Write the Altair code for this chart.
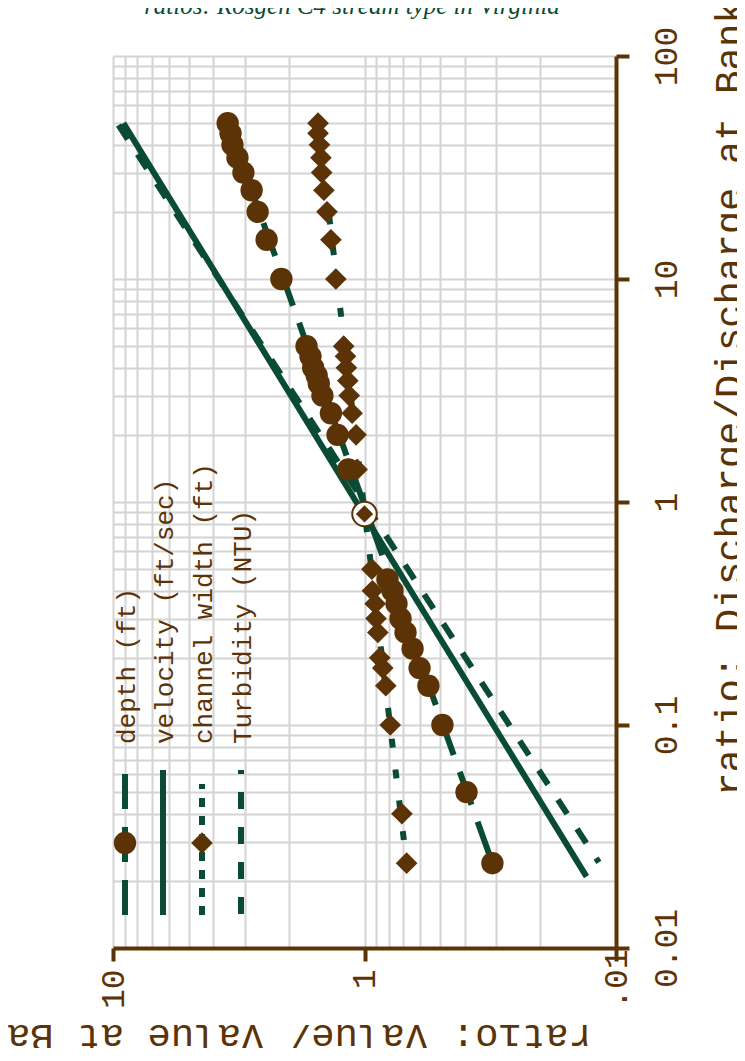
import altair as alt
import pandas as pd

# ---- data ----
# depth (ft): discharge ratio Q vs value ratio V
depth_Q = [50, 45, 40, 35, 30, 25, 20, 15, 10,
           5, 4.5, 4, 3.7, 3.4, 3, 2.5, 2, 1.4,
           0.45, 0.4, 0.35, 0.3, 0.26, 0.22, 0.18, 0.15, 0.1, 0.05, 0.024]
depth_V = [3.50, 3.41, 3.35, 3.20, 3.03, 2.81, 2.66, 2.45, 2.14,
           1.70, 1.64, 1.60, 1.55, 1.52, 1.47, 1.36, 1.28, 1.16,
           0.81, 0.774, 0.746, 0.719, 0.687, 0.644, 0.604, 0.557, 0.49, 0.393, 0.31]
# channel width (ft)
width_Q = [50, 45, 40, 35, 30, 25, 20, 15, 10,
           5, 4.5, 4, 3.5, 3, 2.5, 2, 1.4,
           0.5, 0.4, 0.35, 0.3, 0.26, 0.2, 0.18, 0.15, 0.1, 0.04, 0.024]
width_V = [1.53, 1.53, 1.51, 1.49, 1.48, 1.45, 1.41, 1.36, 1.30,
           1.21, 1.19, 1.18, 1.165, 1.15, 1.12, 1.08, 1.07,
           0.935, 0.93, 0.907, 0.90, 0.885, 0.87, 0.846, 0.823, 0.79, 0.71, 0.68]
# fitted lines (end points)
depth_fit_Q = [50, 0.024]
depth_fit_V = [3.5, 0.31]
velocity_fit_Q = [50, 0.0209]
velocity_fit_V = [9.09, 0.131]
width_fit_Q = [50, 0.024]
width_fit_V = [1.53, 0.68]
turbidity_fit_Q = [49, 0.0242]
turbidity_fit_V = [9.51, 0.117]
# bankfull reference point
ref_Q = [0.884]
ref_V = [1.0]

# axis ticks / grid
x_grid = [0.1, 0.2, 0.3, 0.4, 0.5, 0.6, 0.7, 0.8, 0.9,
          1, 2, 3, 4, 5, 6, 7, 8, 9, 10]
y_grid = [0.01, 0.02, 0.03, 0.04, 0.05, 0.06, 0.07, 0.08, 0.09,
          0.1, 0.2, 0.3, 0.4, 0.5, 0.6, 0.7, 0.8, 0.9,
          1, 2, 3, 4, 5, 6, 7, 8, 9,
          10, 20, 30, 40, 50, 60, 70, 80, 90, 100]
x_major = [10, 1, 0.1]
x_major_labels = ["10", "1", ".01"]
y_major = [100, 10, 1, 0.1, 0.01]
y_major_labels = ["100", "10", "1", "0.1", "0.01"]

legend_labels = ["depth (ft)", "velocity (ft/sec)", "channel width (ft)", "Turbidity (NTU)"]
title_text = "ratios: Rosgen C4 stream type in Virginia"
x_title = "ratio: Value/ Value at Bankfull"
y_title = "ratio: Discharge/Discharge at Bankfull"

# ---- styling ----
BROWN = "#5C3306"
GREEN = "#0A4B33"
GRID = "#d4d4d4"
MONO = "Liberation Mono"


def label_expr(vals, labels):
    parts = [f"datum.value == {v} ? '{l}'" for v, l in zip(vals, labels)]
    return " : ".join(parts) + " : ''"


def major_test(vals):
    return "indexof([" + ",".join(str(v) for v in vals) + "], datum.value) >= 0"


x_axis = alt.Axis(
    values=x_grid, grid=True, gridColor=GRID, gridWidth=2,
    domainColor=BROWN, domainWidth=4,
    tickColor=BROWN, tickWidth=4, tickSize=13,
    tickOpacity={"condition": {"test": major_test(x_major), "value": 1}, "value": 0},
    labelExpr=label_expr(x_major, x_major_labels),
    labelAngle=270, labelAlign="right", labelBaseline="middle",
    labelFont=MONO, labelFontSize=33, labelColor=BROWN,
    labelPadding={"condition": {"test": "datum.value == 0.1", "value": -12}, "value": 8},
    labelOverlap=False, labelFlush=False, labelBound=False,
    title=None, orient="bottom",
)
y_axis = alt.Axis(
    values=y_grid, grid=True, gridColor=GRID, gridWidth=2,
    domainColor=BROWN, domainWidth=4,
    tickColor=BROWN, tickWidth=4, tickSize=13,
    tickOpacity={"condition": {"test": major_test(y_major), "value": 1}, "value": 0},
    labelExpr=label_expr(y_major, y_major_labels),
    labelAngle=270, labelAlign="center", labelBaseline="top",
    labelFont=MONO, labelFontSize=33, labelColor=BROWN, labelPadding=21,
    labelOverlap=False, labelFlush=False, labelBound=False,
    title=None, orient="right",
)

xs = alt.Scale(type="log", domain=[0.1, 10], reverse=True, nice=False)
ys = alt.Scale(type="log", domain=[0.01, 100], nice=False)


def xy():
    return dict(
        x=alt.X("V:Q", scale=xs, axis=x_axis),
        y=alt.Y("Q:Q", scale=ys, axis=y_axis),
    )


def df(q, v):
    return pd.DataFrame({"Q": q, "V": v})


layers = []

# fitted lines
layers.append(alt.Chart(df(velocity_fit_Q, velocity_fit_V)).mark_line(
    color=GREEN, strokeWidth=6, strokeCap="butt").encode(**xy()))
layers.append(alt.Chart(df(turbidity_fit_Q, turbidity_fit_V)).mark_line(
    color=GREEN, strokeWidth=6, strokeDash=[17, 18], strokeCap="butt").encode(**xy()))
layers.append(alt.Chart(df(depth_fit_Q, depth_fit_V)).mark_line(
    color=GREEN, strokeWidth=6, strokeDash=[35, 18], strokeCap="butt").encode(**xy()))
layers.append(alt.Chart(df(width_fit_Q, width_fit_V)).mark_line(
    color=GREEN, strokeWidth=6, strokeDash=[9, 22], strokeCap="butt").encode(**xy()))

# points
layers.append(alt.Chart(df(depth_Q, depth_V)).mark_point(
    shape="circle", filled=True, size=500, color=BROWN, opacity=1).encode(**xy()))
layers.append(alt.Chart(df(width_Q, width_V)).mark_point(
    shape="diamond", filled=True, size=470, color=BROWN, opacity=1).encode(**xy()))

# bankfull reference marker
layers.append(alt.Chart(df(ref_Q, ref_V)).mark_point(
    shape="circle", filled=True, size=600, fill="white", stroke=BROWN,
    strokeWidth=2, opacity=1).encode(**xy()))
layers.append(alt.Chart(df(ref_Q, ref_V)).mark_point(
    shape="diamond", filled=True, size=300, color=BROWN, opacity=1).encode(**xy()))

one = pd.DataFrame({"k": [0]})

# legend (drawn inside the plot, rotated)
leg_x = [12, 50, 89, 128]
layers.append(alt.Chart(one).mark_rule(color=GREEN, strokeWidth=6, strokeDash=[35, 18],
                                       strokeCap="butt").encode(
    x=alt.value(leg_x[0]), y=alt.value(718), y2=alt.value(859)))
layers.append(alt.Chart(one).mark_rule(color=GREEN, strokeWidth=6, strokeCap="butt").encode(
    x=alt.value(leg_x[1]), y=alt.value(714), y2=alt.value(859)))
layers.append(alt.Chart(one).mark_rule(color=GREEN, strokeWidth=6, strokeDash=[9, 9],
                                       strokeCap="butt").encode(
    x=alt.value(leg_x[2]), y=alt.value(859), y2=alt.value(728)))
layers.append(alt.Chart(one).mark_rule(color=GREEN, strokeWidth=6, strokeDash=[17, 18],
                                       strokeCap="butt").encode(
    x=alt.value(leg_x[3]), y=alt.value(858), y2=alt.value(714)))
layers.append(alt.Chart(one).mark_point(shape="circle", filled=True, size=500, color=BROWN,
                                        opacity=1).encode(
    x=alt.value(leg_x[0]), y=alt.value(787)))
layers.append(alt.Chart(one).mark_point(shape="diamond", filled=True, size=470, color=BROWN,
                                        opacity=1).encode(
    x=alt.value(leg_x[2]), y=alt.value(787)))
for lx, lab in zip(leg_x, legend_labels):
    layers.append(alt.Chart(one).mark_text(
        text=lab, angle=270, align="left", baseline="middle",
        font=MONO, fontSize=26, color=BROWN).encode(
        x=alt.value(lx + 2), y=alt.value(688)))

# titles
layers.append(alt.Chart(one).mark_text(
    text=title_text, align="center", baseline="alphabetic",
    font="Liberation Serif", fontStyle="italic", fontSize=25, color=GREEN).encode(
    x=alt.value(239), y=alt.value(-42)))
layers.append(alt.Chart(one).mark_text(
    text=y_title, angle=270, align="left", baseline="middle",
    font=MONO, fontSize=39, color=BROWN).encode(
    x=alt.value(617), y=alt.value(740)))
layers.append(alt.Chart(one).mark_text(
    text=x_title, angle=180, align="left", baseline="middle",
    font=MONO, fontSize=39, color=BROWN).encode(
    x=alt.value(479), y=alt.value(981)))

chart = alt.layer(*layers).properties(
    width=503, height=892,
    autosize=alt.AutoSizeParams(type="none"),
    padding={"left": 105, "top": 48, "right": 121, "bottom": 100},
    background="white",
).configure_view(stroke=None)

chart.save("out.html", embed_options={"renderer": "svg", "actions": False})
